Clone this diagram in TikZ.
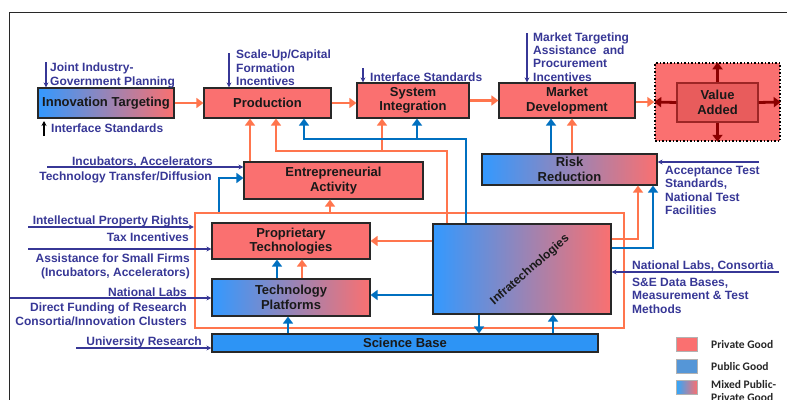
\documentclass[tikz,border=0pt]{standalone}
\usepackage{fontspec}
\setmainfont{Liberation Sans}
\newfontfamily\legendfont{Carlito}
\usetikzlibrary{arrows.meta}

\definecolor{privred}{RGB}{250,112,112}
\definecolor{pubblue}{RGB}{51,153,255}
\definecolor{sciblue}{RGB}{45,148,245}
\definecolor{legblue}{RGB}{85,150,215}
\definecolor{orangecon}{RGB}{255,117,77}
\definecolor{bluecon}{RGB}{0,112,192}
\definecolor{navy}{RGB}{55,55,150}
\definecolor{valred}{RGB}{140,0,0}
\definecolor{valinner}{RGB}{232,92,92}
\definecolor{boxline}{RGB}{40,40,40}
\definecolor{boxtext}{RGB}{25,25,25}

\begin{document}
\begin{tikzpicture}[x=1pt,y=-1pt]
	\useasboundingbox (0,0) rectangle (787,399);

	\tikzstyle{gbox} = [draw=boxline,line width=1.2pt,fill=privred,align=center,inner sep=0pt,text=boxtext,font=\bfseries\fontsize{13}{14.5}\selectfont]
	\tikzstyle{mbox} = [gbox,left color=pubblue,right color=privred]
	\tikzstyle{pbox} = [gbox,fill=sciblue]
	\tikzstyle{lab} = [inner sep=0pt,text=navy,font=\bfseries\fontsize{12}{13.3}\selectfont]
	\tikzstyle{oarr} = [draw=orangecon,line width=2.6pt,-{Triangle[length=7pt,width=10pt]}]
	\tikzstyle{barr} = [draw=bluecon,line width=2.8pt,-{Triangle[length=7pt,width=10pt]}]
	\tikzstyle{narr} = [draw=navy,line width=1.1pt,-{Stealth[length=5pt,width=5pt]}]
	\tikzstyle{varr} = [draw=valred,line width=2.8pt,-{Triangle[length=7pt,width=10pt]}]
	\tikzstyle{legsq} = [draw=black!30,line width=0.4pt,minimum width=21pt,minimum height=14pt,inner sep=0pt]
	\tikzstyle{legtxt} = [inner sep=0pt,text=black!85,font=\legendfont\bfseries\fontsize{11.5}{13}\selectfont,align=left]

	% outer frame
	\draw[boxline,line width=0.9pt] (9.5,12) rectangle (800,420);

	% orange core around the technology boxes
	\node[draw=orangecon,line width=2.4pt,minimum width=429pt,minimum height=115pt,inner sep=0pt] (core) at (409.5,270.5) {};

	% top row
	\node[mbox,minimum width=136pt,minimum height=30pt] (innov) at (106,103) {Innovation Targeting};
	\node[gbox,minimum width=127pt,minimum height=30pt] (prod) at (267.5,103) {Production};
	\node[gbox,minimum width=112pt,minimum height=35pt] (sysint) at (413,100.5) {System\\Integration};
	\node[gbox,minimum width=136pt,minimum height=35pt] (mktdev) at (567,100.5) {Market\\Development};
	\node[draw=black,dotted,line width=1.5pt,fill=privred,minimum width=125pt,minimum height=78pt,inner sep=0pt] (valout) at (717.5,102) {};
	\node[gbox,fill=valinner,draw=valred!85,minimum width=81pt,minimum height=39pt] (valin) at (717.5,102.5) {Value\\Added};

	% middle and lower boxes
	\node[gbox,minimum width=179pt,minimum height=37pt] (entre) at (333.5,180.5) {Entrepreneurial\\Activity};
	\node[mbox,minimum width=175pt,minimum height=31pt] (risk) at (569.5,169.5) {Risk\\Reduction};
	\node[gbox,minimum width=158pt,minimum height=36pt] (propr) at (291,241) {Proprietary\\Technologies};
	\node[mbox,minimum width=158pt,minimum height=37pt] (techplat) at (291,297.5) {Technology\\Platforms};
	\node[mbox,minimum width=178pt,minimum height=90pt] (infra) at (522,269) {};
	\node[rotate=41,inner sep=0pt,text=boxtext,font=\bfseries\fontsize{12}{13}\selectfont] (infratxt) at (530,270) {Infratechnologies};
	\node[pbox,minimum width=386pt,minimum height=18pt] (science) at (405,343) {Science Base};

	% top row flow
	\draw[oarr] (innov) -- (prod);
	\draw[oarr] (prod.east) -- (prod.east -| sysint.west);
	\draw[oarr] (sysint) -- (mktdev);
	\draw[oarr] (mktdev.east |- 0,102) -- (valout.west |- 0,102);
	\draw[varr] (valin.north) -- (valout.north);
	\draw[varr] (valin.south) -- (valout.south);
	\draw[varr] (valin.west) -- (valout.west);
	\draw[varr] (valin.east) -- (valout.east);

	% into production and system integration
	\draw[oarr] (entre.north -| 250,0) -- (prod.south -| 250,0);
	\draw[oarr] (infra.north -| 447,0) |- (276,151) -- (prod.south -| 276,0);
	\coordinate (obranch) at (382,151);
	\draw[oarr] (obranch) -- (sysint.south -| obranch);
	\draw[barr] (infra.north -| 466,0) |- (304,139) -- (prod.south -| 304,0);
	\coordinate (bbranch) at (417,139);
	\draw[barr] (bbranch) -- (sysint.south -| bbranch);

	% risk reduction
	\draw[barr] (risk.north -| 551,0) -- (mktdev.south -| 551,0);
	\draw[oarr] (risk.north -| 572,0) -- (mktdev.south -| 572,0);
	\draw[oarr] (infra.east |- 0,239) -| (risk.south -| 638,0);
	\draw[barr] (infra.east |- 0,248) -| (risk.south -| 653,0);

	% entrepreneurial activity
	\draw[oarr] (core.north -| 330,0) -- (entre.south -| 330,0);
	\draw[barr] (core.north -| 219,0) |- (entre.west |- 0,178);

	% technology boxes
	\draw[oarr] (infra.west |- 0,241) -- (propr.east |- 0,241);
	\draw[barr] (infra.west |- 0,295) -- (techplat.east |- 0,295);
	\draw[barr] (techplat.north -| 277,0) -- (propr.south -| 277,0);
	\draw[oarr] (techplat.north -| 302,0) -- (propr.south -| 302,0);
	\draw[barr] (science.north -| 288,0) -- (techplat.south -| 288,0);
	\draw[barr] (infra.south -| 479,0) -- (science.north -| 479,0);
	\draw[barr] (science.north -| 553,0) -- (infra.south -| 553,0);

	% policy inputs, top
	\coordinate (jip) at (46,62);
	\draw[narr] (jip) -- (innov.north -| jip);
	\node[lab,anchor=north west,align=left] (jiptxt) at (50,63) {Joint Industry-\\Government Planning};
	\coordinate (ifs) at (44,136);
	\draw[draw=black,line width=1.1pt,-{Stealth[length=5pt,width=5pt]}] (ifs) -- ++(0,-15);
	\node[lab,anchor=north west] (ifstxt) at (51,123.5) {Interface Standards};
	\coordinate (scale) at (229,53);
	\draw[narr] (scale) -- (prod.north -| scale);
	\node[lab,anchor=north west,align=left] (scaletxt) at (236,50) {Scale-Up/Capital\\Formation\\Incentives};
	\coordinate (sifs) at (363,68);
	\draw[narr] (sifs) -- (sysint.north -| sifs);
	\node[lab,anchor=north west] (sifstxt) at (370,73) {Interface Standards};
	\coordinate (mkt) at (527,33);
	\draw[narr] (mkt) -- (mktdev.north -| mkt);
	\node[lab,anchor=north west,align=left] (mkttxt) at (533,32.5) {Market Targeting\\Assistance\ \ and\\Procurement\\Incentives};

	% policy inputs, left
	\coordinate (incub) at (47,167);
	\draw[narr] (incub) -- (entre.west |- incub);
	\node[lab,anchor=north east] (incubtxt) at (213,157) {Incubators, Accelerators};
	\node[lab,anchor=north east] (ttdtxt) at (212,172) {Technology Transfer/Diffusion};
	\coordinate (ipr) at (28,227);
	\draw[narr] (ipr) -- (core.west |- ipr);
	\node[lab,anchor=north east] (iprtxt) at (189,216) {Intellectual Property Rights};
	\node[lab,anchor=north east] (taxtxt) at (189,232.5) {Tax Incentives};
	\coordinate (small) at (28,249);
	\draw[narr] (small) -- (propr.west |- small);
	\node[lab,anchor=north east,align=right] (smalltxt) at (190,254) {Assistance for Small Firms\\(Incubators, Accelerators)};
	\coordinate (natlab) at (10,298);
	\draw[narr] (natlab) -- (techplat.west |- natlab);
	\node[lab,anchor=north east] (natlabtxt) at (187,288) {National Labs};
	\node[lab,anchor=north east,align=right] (fundtxt) at (187,303) {Direct Funding of Research\\Consortia/Innovation Clusters};
	\coordinate (univ) at (76,348);
	\draw[narr] (univ) -- (science.west |- univ);
	\node[lab,anchor=north east] (univtxt) at (202,337) {University Research};

	% policy inputs, right
	\coordinate (accept) at (759,162);
	\draw[narr] (accept) -- (risk.east |- accept);
	\node[lab,anchor=north west,align=left] (accepttxt) at (665,166) {Acceptance Test\\Standards,\\National Test\\Facilities};
	\coordinate (consort) at (779,272);
	\draw[narr] (consort) -- (infra.east |- consort);
	\node[lab,anchor=north west] (consorttxt) at (632,261) {National Labs, Consortia};
	\node[lab,anchor=north west,align=left] (setxt) at (632,278) {S\&E Data Bases,\\Measurement \& Test\\Methods};

	% legend
	\node[legsq,fill=privred] (lpriv) at (686.5,344) {};
	\node[legtxt,anchor=west] (lprivtxt) at (711,345) {Private Good};
	\node[legsq,fill=legblue] (lpub) at (686.5,366) {};
	\node[legtxt,anchor=west] (lpubtxt) at (711,366.5) {Public Good};
	\node[legsq,left color=pubblue!85!cyan,right color=privred] (lmix) at (686.5,387.5) {};
	\node[legtxt,anchor=north west] (lmixtxt) at (711,380.5) {Mixed Public-\\Private Good};
\end{tikzpicture}
\end{document}
